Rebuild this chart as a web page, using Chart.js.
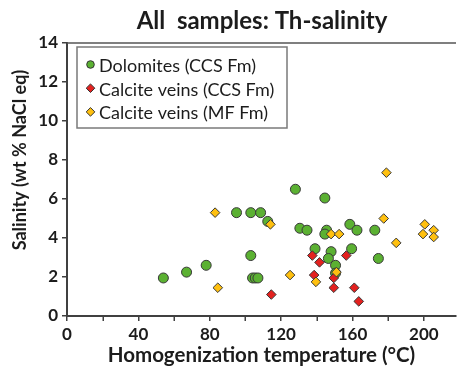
<!DOCTYPE html>
<html><head><meta charset="utf-8">
<script src="https://cdn.jsdelivr.net/npm/chart.js@4/dist/chart.umd.min.js"></script>
<style>html,body{margin:0;padding:0;background:#fff;overflow:hidden}canvas{display:block}</style>
</head><body>
<canvas id="c" width="462" height="372"></canvas>
<script>
// ---- data ----
const titleText = "All  samples: Th-salinity";
const xTitle = "Homogenization temperature (°C)";
const yTitle = "Salinity (wt % NaCl eq)";
const seriesLabels = ["Dolomites (CCS Fm)", "Calcite veins (CCS Fm)", "Calcite veins (MF Fm)"];

const dolomiteT = [54, 67, 78, 95, 103, 108.5, 103, 104, 105.5, 107, 112.5, 128, 130.5, 134.5, 144.5, 145.5, 144.5, 139, 148, 146.5, 150.5, 150.5, 158.5, 162.5, 159.5, 172.5, 174.5];
const dolomiteS = [1.95, 2.25, 2.6, 5.3, 5.3, 5.3, 3.1, 1.95, 1.95, 1.95, 4.85, 6.5, 4.5, 4.4, 6.05, 4.4, 4.2, 3.45, 3.3, 2.95, 2.6, 2.2, 4.7, 4.4, 3.45, 4.4, 2.95];

const ccsVeinT = [114.5, 137.5, 141.5, 138.5, 149.5, 149.5, 156.5, 161, 163.5];
const ccsVeinS = [1.1, 3.1, 2.75, 2.1, 1.95, 1.45, 3.1, 1.45, 0.75];

const mfVeinT = [83, 84.5, 114, 125, 148, 152.5, 139.5, 151, 179, 177.5, 184.5, 200.5, 199.5, 205.5, 205.5];
const mfVeinS = [5.3, 1.45, 4.7, 2.1, 4.2, 4.2, 1.75, 2.25, 7.35, 5.0, 3.75, 4.7, 4.2, 4.4, 4.05];

const xTickLabels = [0, 40, 80, 120, 160, 200];
const xMinorTicks = [20, 60, 100, 140, 180];
const yTickValues = [0, 2, 4, 6, 8, 10, 12, 14];

// ---- build ----
const pts = (xs, ys) => xs.map((x, i) => ({x: x, y: ys[i]}));
const FONT = "Lato, 'Open Sans', sans-serif";
const INK = '#1c1c1c';
const AXIS = '#404040';
const colors = ['#5bb132', '#e3211f', '#ffc00f'];
const shapes = ['circle', 'rectRot', 'rectRot'];

const decor = {
  id: 'decor',
  afterDraw(chart) {
    const ctx = chart.ctx, a = chart.chartArea, xs = chart.scales.x;
    ctx.save();
    ctx.strokeStyle = '#555'; ctx.lineWidth = 1.5;
    ctx.beginPath(); ctx.moveTo(a.left, a.top); ctx.lineTo(a.right, a.top); ctx.stroke();
    // minor x tick marks placed by the x scale
    ctx.strokeStyle = AXIS; ctx.lineWidth = 1.5;
    ctx.beginPath();
    xMinorTicks.forEach(v => { const px = Math.round(xs.getPixelForValue(v)) + 0.25; ctx.moveTo(px, a.bottom); ctx.lineTo(px, a.bottom + 5); });
    ctx.stroke();
    ctx.fillStyle = INK; ctx.font = "bold 24px " + FONT;
    ctx.textAlign = 'center'; ctx.textBaseline = 'middle';
    ctx.fillText(titleText, 262, 21);
    // y axis title
    ctx.save();
    ctx.translate(20, 160); ctx.rotate(-Math.PI / 2);
    ctx.font = "bold 18px " + FONT;
    ctx.fillText(yTitle, 0, 0);
    ctx.restore();
    // legend
    const bx = 77, by = 47, bw = 210, bh = 81;
    ctx.fillStyle = '#fff'; ctx.fillRect(bx, by, bw, bh);
    ctx.strokeStyle = '#7a7a7a'; ctx.lineWidth = 1.5; ctx.strokeRect(bx, by, bw, bh);
    ctx.font = "18px " + FONT; ctx.textAlign = 'left';
    chart.data.datasets.forEach((ds, i) => {
      const cy = 66 + i * 23.7, cx = 90.5, my = cy - 1.5;
      ctx.beginPath();
      if (ds.pointStyle === 'circle') { ctx.arc(cx, my, 3.8, 0, Math.PI * 2); }
      else { const r = 4.3; ctx.moveTo(cx, my - r); ctx.lineTo(cx + r, my); ctx.lineTo(cx, my + r); ctx.lineTo(cx - r, my); ctx.closePath(); }
      ctx.fillStyle = ds.backgroundColor; ctx.fill();
      ctx.strokeStyle = '#333'; ctx.lineWidth = 1; ctx.stroke();
      ctx.fillStyle = INK;
      ctx.fillText(ds.label, 99, cy);
    });
    ctx.restore();
  }
};

new Chart(document.getElementById('c'), {
  type: 'scatter',
  data: {
    datasets: [
      {label: seriesLabels[0], data: pts(dolomiteT, dolomiteS), order: 3},
      {label: seriesLabels[1], data: pts(ccsVeinT, ccsVeinS), order: 2},
      {label: seriesLabels[2], data: pts(mfVeinT, mfVeinS), order: 1}
    ].map((d, i) => Object.assign(d, {
      backgroundColor: colors[i], borderColor: '#383838', borderWidth: 1,
      pointStyle: shapes[i], pointRadius: i === 0 ? 5 : 4.8
    }))
  },
  options: {
    responsive: false, animation: false, devicePixelRatio: 1,
    layout: {padding: {top: 43, right: 0, left: 0, bottom: 0}},
    plugins: {legend: {display: false}, tooltip: {enabled: false}, title: {display: false}},
    scales: {
      x: {
        type: 'linear', min: 0, max: 218,
        border: {color: AXIS, width: 2},
        grid: {drawOnChartArea: false, tickLength: 5, color: AXIS, lineWidth: 1.5},
        afterBuildTicks: s => { s.ticks = xTickLabels.map(v => ({value: v})); },
        afterFit: s => { s.height = 56; },
        ticks: {autoSkip: false, maxRotation: 0, minRotation: 0, padding: 3, color: INK,
          font: {family: FONT, weight: 'bold', size: 17}},
        title: {display: true, text: xTitle, color: INK, font: {family: FONT, weight: 'bold', size: 20.5}, padding: {top: 0, bottom: 4}}
      },
      y: {
        type: 'linear', min: 0, max: 14,
        border: {color: AXIS, width: 2},
        grid: {drawOnChartArea: false, tickLength: 5, color: AXIS, lineWidth: 1.5},
        afterBuildTicks: s => { s.ticks = yTickValues.map(v => ({value: v})); },
        afterFit: s => { s.width = 67; },
        ticks: {padding: 4, color: INK, font: {family: FONT, weight: 'bold', size: 17}},
        title: {display: false}
      }
    }
  },
  plugins: [decor]
});
</script>
</body></html>
